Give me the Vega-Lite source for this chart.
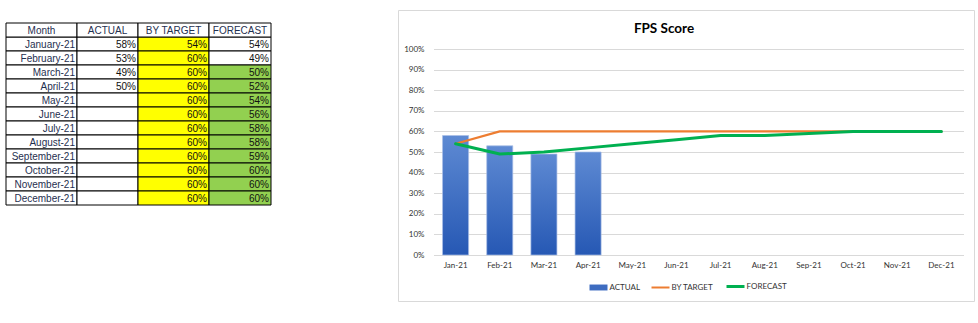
{
  "$schema": "https://vega.github.io/schema/vega-lite/v6.json",
  "background": "#ffffff",
  "padding": {"left": 5, "top": 9, "right": 0, "bottom": 0},
  "bounds": "flush",
  "spacing": 0,
  "config": {"view": {"stroke": null}, "font": "Lato"},
  "datasets": {
    "fps": [
      {"month": "January-21", "m": "Jan-21", "ACTUAL": 0.58, "BY TARGET": 0.54, "FORECAST": 0.54},
      {"month": "February-21", "m": "Feb-21", "ACTUAL": 0.53, "BY TARGET": 0.60, "FORECAST": 0.49},
      {"month": "March-21", "m": "Mar-21", "ACTUAL": 0.49, "BY TARGET": 0.60, "FORECAST": 0.50},
      {"month": "April-21", "m": "Apr-21", "ACTUAL": 0.50, "BY TARGET": 0.60, "FORECAST": 0.52},
      {"month": "May-21", "m": "May-21", "ACTUAL": null, "BY TARGET": 0.60, "FORECAST": 0.54},
      {"month": "June-21", "m": "Jun-21", "ACTUAL": null, "BY TARGET": 0.60, "FORECAST": 0.56},
      {"month": "July-21", "m": "Jul-21", "ACTUAL": null, "BY TARGET": 0.60, "FORECAST": 0.58},
      {"month": "August-21", "m": "Aug-21", "ACTUAL": null, "BY TARGET": 0.60, "FORECAST": 0.58},
      {"month": "September-21", "m": "Sep-21", "ACTUAL": null, "BY TARGET": 0.60, "FORECAST": 0.59},
      {"month": "October-21", "m": "Oct-21", "ACTUAL": null, "BY TARGET": 0.60, "FORECAST": 0.60},
      {"month": "November-21", "m": "Nov-21", "ACTUAL": null, "BY TARGET": 0.60, "FORECAST": 0.60},
      {"month": "December-21", "m": "Dec-21", "ACTUAL": null, "BY TARGET": 0.60, "FORECAST": 0.60}
    ]
  },
  "hconcat": [
    {
      "width": 71, "height": 195,
      "data": {"name": "fps"},
      "encoding": {"y": {"field": "month", "type": "nominal", "scale": {"domain": ["header","January-21","February-21","March-21","April-21","May-21","June-21","July-21","August-21","September-21","October-21","November-21","December-21"], "range": [13, 195], "paddingInner": 0, "paddingOuter": 0}, "axis": null}},
      "layer": [
        {"mark": {"type": "rect", "fill": "#ffffff", "stroke": "#000000", "strokeWidth": 1}},
        {"mark": {"type": "text", "x": "width", "dx": -2, "dy": 0.5, "align": "right", "baseline": "middle", "font": "Liberation Sans", "fontSize": 10, "fill": "#1F3050"}, "encoding": {"text": {"field": "month"}}},
        {"data": {"values": [{"month": "header", "h": "Month"}]}, "mark": {"type": "rect", "fill": "#ffffff", "stroke": "#000000", "strokeWidth": 1}},
        {"data": {"values": [{"month": "header", "h": "Month"}]}, "mark": {"type": "text", "x": "width", "dx": -35.5, "dy": 0.5, "align": "center", "baseline": "middle", "font": "Liberation Sans", "fontSize": 10, "fill": "#1F3050"}, "encoding": {"text": {"field": "h"}}}
      ]
    },
    {
      "width": 61, "height": 195,
      "data": {"name": "fps"},
      "encoding": {"y": {"field": "month", "type": "nominal", "scale": {"domain": ["header","January-21","February-21","March-21","April-21","May-21","June-21","July-21","August-21","September-21","October-21","November-21","December-21"], "range": [13, 195], "paddingInner": 0, "paddingOuter": 0}, "axis": null}},
      "layer": [
        {"mark": {"type": "rect", "fill": "#ffffff", "stroke": "#000000", "strokeWidth": 1}},
        {"transform": [{"filter": "isValid(datum.ACTUAL)"}], "mark": {"type": "text", "x": "width", "dx": -2, "dy": 0.5, "align": "right", "baseline": "middle", "font": "Liberation Sans", "fontSize": 10, "fill": "#111111"}, "encoding": {"text": {"field": "ACTUAL", "type": "quantitative", "format": ".0%"}}},
        {"data": {"values": [{"month": "header", "h": "ACTUAL"}]}, "mark": {"type": "rect", "fill": "#ffffff", "stroke": "#000000", "strokeWidth": 1}},
        {"data": {"values": [{"month": "header", "h": "ACTUAL"}]}, "mark": {"type": "text", "x": "width", "dx": -30.5, "dy": 0.5, "align": "center", "baseline": "middle", "font": "Liberation Sans", "fontSize": 10, "fill": "#1F3050"}, "encoding": {"text": {"field": "h"}}}
      ]
    },
    {
      "width": 71, "height": 195,
      "data": {"name": "fps"},
      "encoding": {"y": {"field": "month", "type": "nominal", "scale": {"domain": ["header","January-21","February-21","March-21","April-21","May-21","June-21","July-21","August-21","September-21","October-21","November-21","December-21"], "range": [13, 195], "paddingInner": 0, "paddingOuter": 0}, "axis": null}},
      "layer": [
        {"mark": {"type": "rect", "fill": "#FFFF00", "stroke": "#000000", "strokeWidth": 1}},
        {"mark": {"type": "text", "x": "width", "dx": -2, "dy": 0.5, "align": "right", "baseline": "middle", "font": "Liberation Sans", "fontSize": 10, "fill": "#111111"}, "encoding": {"text": {"field": "BY TARGET", "type": "quantitative", "format": ".0%"}}},
        {"data": {"values": [{"month": "header", "h": "BY TARGET"}]}, "mark": {"type": "rect", "fill": "#ffffff", "stroke": "#000000", "strokeWidth": 1}},
        {"data": {"values": [{"month": "header", "h": "BY TARGET"}]}, "mark": {"type": "text", "x": "width", "dx": -35.5, "dy": 0.5, "align": "center", "baseline": "middle", "font": "Liberation Sans", "fontSize": 10, "fill": "#1F3050"}, "encoding": {"text": {"field": "h"}}}
      ]
    },
    {
      "width": 62, "height": 195,
      "data": {"name": "fps"},
      "encoding": {"y": {"field": "month", "type": "nominal", "scale": {"domain": ["header","January-21","February-21","March-21","April-21","May-21","June-21","July-21","August-21","September-21","October-21","November-21","December-21"], "range": [13, 195], "paddingInner": 0, "paddingOuter": 0}, "axis": null}},
      "layer": [
        {"mark": {"type": "rect", "stroke": "#000000", "strokeWidth": 1}, "encoding": {"fill": {"condition": {"test": "indexof(['January-21','February-21'], datum.month) >= 0", "value": "#ffffff"}, "value": "#92D050"}}},
        {"mark": {"type": "text", "x": "width", "dx": -2, "dy": 0.5, "align": "right", "baseline": "middle", "font": "Liberation Sans", "fontSize": 10, "fill": "#111111"}, "encoding": {"text": {"field": "FORECAST", "type": "quantitative", "format": ".0%"}}},
        {"data": {"values": [{"month": "header", "h": "FORECAST"}]}, "mark": {"type": "rect", "fill": "#ffffff", "stroke": "#000000", "strokeWidth": 1}},
        {"data": {"values": [{"month": "header", "h": "FORECAST"}]}, "mark": {"type": "text", "x": "width", "dx": -31, "dy": 0.5, "align": "center", "baseline": "middle", "font": "Liberation Sans", "fontSize": 10, "fill": "#1F3050"}, "encoding": {"text": {"field": "h"}}}
      ]
    },
    {
      "width": 127, "height": 1,
      "data": {"values": []},
      "mark": {"type": "rect", "opacity": 0}
    },
    {
      "width": 576, "height": 291,
      "view": {"stroke": "#D9D9D9", "fill": "#ffffff"},
      "title": {"text": "FPS Score", "frame": "group", "anchor": "middle", "dx": -22, "offset": -36, "baseline": "alphabetic", "font": "Lato", "fontSize": 13.5, "fontWeight": "bold", "color": "#000000"},
      "data": {"name": "fps"},
      "encoding": {
        "x": {"field": "m", "type": "nominal", "sort": null, "title": null,
          "scale": {"domain": ["Jan-21","Feb-21","Mar-21","Apr-21","May-21","Jun-21","Jul-21","Aug-21","Sep-21","Oct-21","Nov-21","Dec-21"], "range": [35.5, 565.5], "paddingInner": 0.41, "paddingOuter": 0.205},
          "axis": {"title": null, "orient": "bottom", "offset": -46, "domain": false, "ticks": false, "tickSize": 0, "labelPadding": 6, "labelAngle": 0, "labelFont": "Lato", "labelFontSize": 8, "labelColor": "#333333", "grid": false}}
      },
      "layer": [
        {
          "mark": {"type": "bar", "fill": {"gradient": "linear", "x1": 0, "y1": 0, "x2": 0, "y2": 1, "stops": [{"offset": 0, "color": "#5E8AD3"}, {"offset": 1, "color": "#2658B4"}]}, "stroke": "#A9BFE6", "strokeWidth": 0.7},
          "encoding": {"y": {"field": "ACTUAL", "type": "quantitative", "title": null,
            "scale": {"domain": [0, 1], "range": [245, 39], "nice": false, "zero": true},
            "axis": {"title": null, "values": [0, 0.1, 0.2, 0.3, 0.4, 0.5, 0.6, 0.7, 0.8, 0.9, 1], "format": ".0%", "offset": -26, "domain": false, "ticks": false, "tickSize": 0, "labelPadding": 0, "labelOverlap": false, "grid": true, "gridColor": "#D9D9D9", "gridWidth": 1, "labelFont": "Lato", "labelFontSize": 8, "labelColor": "#333333"}}}
        },
        {
          "mark": {"type": "line", "strokeWidth": 2.2, "strokeJoin": "round", "strokeCap": "round"},
          "encoding": {
            "y": {"field": "BY TARGET", "type": "quantitative", "title": null,
              "axis": {"title": null, "values": [0, 0.1, 0.2, 0.3, 0.4, 0.5, 0.6, 0.7, 0.8, 0.9, 1], "format": ".0%", "offset": -26, "domain": false, "ticks": false, "tickSize": 0, "labelPadding": 0, "labelOverlap": false, "grid": true, "gridColor": "#D9D9D9", "gridWidth": 1, "labelFont": "Lato", "labelFontSize": 8, "labelColor": "#333333"}},
            "color": {"datum": "BY TARGET", "type": "nominal",
              "scale": {"domain": ["ACTUAL", "BY TARGET", "FORECAST"], "range": ["#3E6CC0", "#ED7D31", "#00B050"]},
              "legend": {"title": null, "orient": "none", "legendX": 588.5, "legendY": 272.5, "direction": "horizontal", "symbolSize": 324, "labelOffset": 7, "columnPadding": 7, "labelFont": "Lato", "labelFontSize": 8, "labelColor": "#333333", "symbolStrokeWidth": 2,
                "encode": {"symbols": {"update": {
                  "shape": {"signal": "datum.value === 'ACTUAL' ? 'M-1,-0.33H1V0.33H-1Z' : 'stroke'"},
                  "fill": {"signal": "datum.value === 'ACTUAL' ? '#3E6CC0' : 'transparent'"},
                  "strokeWidth": {"signal": "datum.value === 'ACTUAL' ? 0 : (datum.value === 'FORECAST' ? 3 : 2)"}
                }}}}}
          }
        },
        {
          "mark": {"type": "line", "strokeWidth": 3, "strokeJoin": "round", "strokeCap": "round"},
          "encoding": {
            "y": {"field": "FORECAST", "type": "quantitative", "title": null,
              "axis": {"title": null, "values": [0, 0.1, 0.2, 0.3, 0.4, 0.5, 0.6, 0.7, 0.8, 0.9, 1], "format": ".0%", "offset": -26, "domain": false, "ticks": false, "tickSize": 0, "labelPadding": 0, "labelOverlap": false, "grid": true, "gridColor": "#D9D9D9", "gridWidth": 1, "labelFont": "Lato", "labelFontSize": 8, "labelColor": "#333333"}},
            "color": {"datum": "FORECAST", "type": "nominal"}
          }
        }
      ]
    }
  ]
}
